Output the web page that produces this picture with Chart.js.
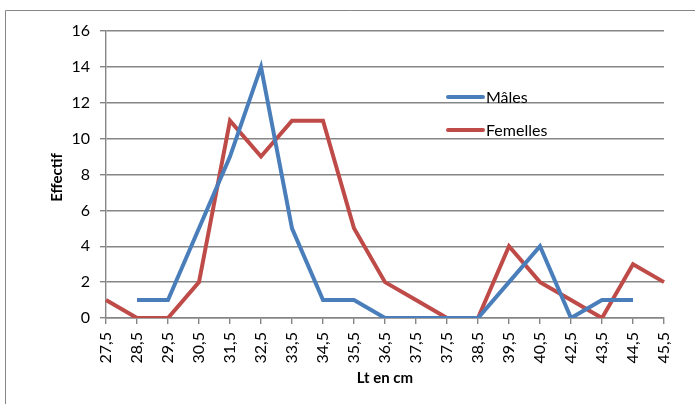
<!DOCTYPE html>
<html>
<head>
<meta charset="utf-8">
<script src="https://cdn.jsdelivr.net/npm/chart.js@4/dist/chart.umd.min.js"></script>
<style>
html,body{margin:0;padding:0;background:#fff;}
#wrap{width:695px;height:404px;position:relative;}
</style>
</head>
<body>
<div id="wrap"><canvas id="c" width="695" height="404"></canvas></div>
<script>
const categories = ["27,5","28,5","29,5","30,5","31,5","32,5","33,5","34,5","35,5","36,5","37,5","37,5","38,5","39,5","40,5","42,5","43,5","44,5","45,5"];
const males    = [null,1,1,5,9,14,5,1,1,0,0,0,0,2,4,0,1,1,null];
const femelles = [1,0,0,2,11,9,11,11,5,2,1,0,0,4,2,1,0,3,2];
const seriesNames = ["Mâles","Femelles"];
const yTitle = "Effectif";
const xTitle = "Lt en cm";

const GRID = '#868686';
const FONT = 'Lato, "Liberation Sans", sans-serif';

const decor = {
  id: 'decor',
  afterDraw(chart) {
    const ctx = chart.ctx;
    const a = chart.chartArea;
    ctx.save();
    // outer frame (top + left)
    ctx.strokeStyle = GRID;
    ctx.lineWidth = 1;
    ctx.beginPath();
    ctx.moveTo(5.5, 404);
    ctx.lineTo(5.5, 10.5);
    ctx.lineTo(695, 10.5);
    ctx.stroke();
    // axis titles
    ctx.fillStyle = '#000';
    ctx.font = 'bold 15px ' + FONT;
    ctx.textAlign = 'center';
    ctx.textBaseline = 'middle';
    ctx.fillText(xTitle, (a.left + a.right) / 2, 378);
    ctx.save();
    ctx.translate(57, (a.top + a.bottom) / 2 + 3);
    ctx.rotate(-Math.PI / 2);
    ctx.fillText(yTitle, 0, 0);
    ctx.restore();
    // legend
    const ys = [97, 130];
    chart.data.datasets.forEach((ds, i) => {
      ctx.strokeStyle = ds.borderColor;
      ctx.lineWidth = 4;
      ctx.lineCap = 'round';
      ctx.beginPath();
      ctx.moveTo(448, ys[i]);
      ctx.lineTo(483, ys[i]);
      ctx.stroke();
      ctx.fillStyle = '#000';
      ctx.font = '16px ' + FONT;
      ctx.textAlign = 'left';
      ctx.textBaseline = 'middle';
      ctx.fillText(ds.label, 486, ys[i] + 1);
    });
    ctx.restore();
  }
};

new Chart(document.getElementById('c'), {
  type: 'line',
  data: {
    labels: categories,
    datasets: [
      { label: seriesNames[0], data: males, borderColor: '#4A7EBB', backgroundColor: '#4A7EBB', borderWidth: 4, pointRadius: 0, tension: 0, spanGaps: false, borderJoinStyle: 'miter' },
      { label: seriesNames[1], data: femelles, borderColor: '#BE4B48', backgroundColor: '#BE4B48', borderWidth: 4, pointRadius: 0, tension: 0, spanGaps: false, borderJoinStyle: 'miter' }
    ]
  },
  options: {
    responsive: false,
    animation: false,
    devicePixelRatio: 1,
    layout: { padding: { top: 31, right: 31, left: 0, bottom: 0 } },
    plugins: { legend: { display: false }, tooltip: { enabled: false } },
    scales: {
      x: {
        offset: false,
        grid: { drawOnChartArea: false, drawTicks: true, tickLength: 6, color: GRID, lineWidth: 1.4 },
        border: { display: true, color: GRID, width: 1.4 },
        ticks: { autoSkip: false, maxRotation: 90, minRotation: 90, padding: 8, color: '#000', font: { size: 16, family: FONT } },
        afterFit(s) { s.height = 86; }
      },
      y: {
        min: 0, max: 16,
        grid: { drawOnChartArea: true, drawTicks: true, tickLength: 6, color: GRID, lineWidth: 1.4 },
        border: { display: true, color: GRID, width: 1.4 },
        ticks: { stepSize: 2, padding: 10, color: '#000', font: { size: 16, family: FONT } },
        afterFit(s) { s.width = 106; }
      }
    }
  },
  plugins: [decor]
});
</script>
</body>
</html>
